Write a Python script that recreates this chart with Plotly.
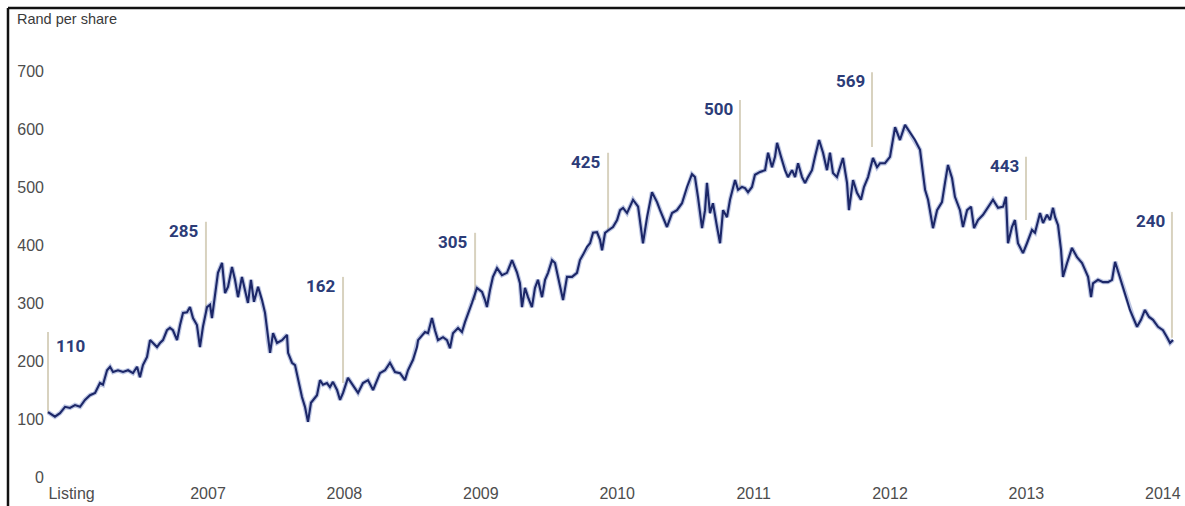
import plotly.graph_objects as go

# Share price history, time in decimal years
years = [
    2005.827, 2005.878, 2005.915, 2005.952, 2005.988, 2006.025, 2006.062, 2006.098, 2006.135, 2006.172,
    2006.208, 2006.230, 2006.260, 2006.282, 2006.304, 2006.340, 2006.377, 2006.414, 2006.450, 2006.480,
    2006.501, 2006.523, 2006.553, 2006.575, 2006.597, 2006.626, 2006.648, 2006.670, 2006.699, 2006.721,
    2006.743, 2006.773, 2006.795, 2006.817, 2006.846, 2006.868, 2006.890, 2006.919, 2006.941, 2006.963,
    2006.993, 2007.015, 2007.029, 2007.051, 2007.073, 2007.103, 2007.125, 2007.147, 2007.176, 2007.198,
    2007.220, 2007.249, 2007.271, 2007.293, 2007.315, 2007.337, 2007.367, 2007.396, 2007.418, 2007.440,
    2007.455, 2007.477, 2007.506, 2007.543, 2007.579, 2007.587, 2007.616, 2007.638, 2007.660, 2007.689,
    2007.711, 2007.733, 2007.755, 2007.770, 2007.799, 2007.821, 2007.843, 2007.872, 2007.894, 2007.916,
    2007.946, 2007.968, 2007.990, 2008.026, 2008.063, 2008.100, 2008.136, 2008.173, 2008.210, 2008.261,
    2008.298, 2008.334, 2008.371, 2008.408, 2008.444, 2008.466, 2008.503, 2008.532, 2008.540, 2008.569,
    2008.591, 2008.613, 2008.642, 2008.664, 2008.686, 2008.723, 2008.752, 2008.774, 2008.796, 2008.833,
    2008.862, 2008.884, 2008.906, 2008.935, 2008.972, 2009.009, 2009.031, 2009.045, 2009.067, 2009.089,
    2009.119, 2009.155, 2009.192, 2009.229, 2009.265, 2009.287, 2009.302, 2009.324, 2009.346, 2009.375,
    2009.397, 2009.419, 2009.449, 2009.471, 2009.493, 2009.522, 2009.544, 2009.566, 2009.603, 2009.632,
    2009.669, 2009.705, 2009.727, 2009.749, 2009.779, 2009.801, 2009.823, 2009.852, 2009.874, 2009.889,
    2009.911, 2009.933, 2009.969, 2009.999, 2010.021, 2010.043, 2010.072, 2010.116, 2010.153, 2010.189,
    2010.219, 2010.255, 2010.292, 2010.314, 2010.365, 2010.402, 2010.438, 2010.475, 2010.512, 2010.548,
    2010.570, 2010.592, 2010.622, 2010.644, 2010.658, 2010.680, 2010.702, 2010.732, 2010.754, 2010.776,
    2010.805, 2010.827, 2010.864, 2010.886, 2010.915, 2010.937, 2010.959, 2010.988, 2011.010, 2011.047,
    2011.084, 2011.106, 2011.135, 2011.157, 2011.172, 2011.201, 2011.230, 2011.252, 2011.282, 2011.304,
    2011.326, 2011.355, 2011.377, 2011.399, 2011.428, 2011.450, 2011.480, 2011.509, 2011.538, 2011.560,
    2011.582, 2011.611, 2011.633, 2011.655, 2011.685, 2011.699, 2011.729, 2011.758, 2011.787, 2011.809,
    2011.839, 2011.875, 2011.905, 2011.927, 2011.963, 2012.000, 2012.037, 2012.073, 2012.110, 2012.147,
    2012.183, 2012.220, 2012.257, 2012.279, 2012.315, 2012.345, 2012.381, 2012.403, 2012.425, 2012.455,
    2012.476, 2012.513, 2012.535, 2012.565, 2012.594, 2012.616, 2012.645, 2012.682, 2012.719, 2012.755,
    2012.792, 2012.829, 2012.850, 2012.865, 2012.894, 2012.916, 2012.938, 2012.975, 2013.004, 2013.041,
    2013.063, 2013.100, 2013.122, 2013.151, 2013.173, 2013.195, 2013.210, 2013.232, 2013.254, 2013.268,
    2013.298, 2013.334, 2013.371, 2013.408, 2013.430, 2013.452, 2013.474, 2013.488, 2013.525, 2013.562,
    2013.598, 2013.628, 2013.650, 2013.686, 2013.708, 2013.737, 2013.759, 2013.781, 2013.811, 2013.840,
    2013.869, 2013.899, 2013.928, 2013.965, 2014.001, 2014.031, 2014.053, 2014.075,
]
price = [
    112, 104, 110, 121, 119, 124, 121, 133, 141, 145,
    162, 159, 184, 190, 181, 184, 181, 184, 179, 190,
    172, 193, 207, 236, 231, 224, 231, 236, 253, 257,
    253, 236, 262, 283, 284, 293, 274, 262, 224, 259,
    293, 297, 274, 314, 352, 369, 317, 328, 362, 340,
    310, 345, 322, 300, 340, 302, 328, 305, 283, 236,
    214, 248, 231, 236, 245, 214, 197, 193, 167, 138,
    121, 95, 128, 133, 141, 167, 159, 162, 155, 164,
    150, 133, 145, 171, 159, 145, 162, 167, 150, 179,
    184, 197, 181, 179, 167, 184, 202, 224, 236, 245,
    250, 248, 274, 253, 236, 241, 236, 222, 248, 257,
    250, 267, 283, 300, 326, 319, 305, 293, 322, 345,
    360, 348, 352, 374, 353, 334, 293, 326, 310, 293,
    326, 340, 310, 340, 352, 374, 369, 345, 305, 345,
    345, 352, 374, 383, 397, 403, 421, 422, 409, 391,
    421, 425, 431, 443, 460, 464, 455, 478, 466, 403,
    448, 491, 474, 460, 431, 455, 460, 472, 500, 522,
    517, 483, 429, 460, 507, 455, 472, 431, 403, 460,
    448, 478, 512, 495, 500, 498, 491, 500, 521, 526,
    529, 559, 534, 552, 576, 552, 529, 517, 529, 517,
    541, 517, 507, 517, 529, 552, 581, 559, 529, 559,
    524, 517, 534, 550, 507, 460, 512, 490, 478, 500,
    517, 550, 534, 541, 541, 552, 603, 581, 607, 593,
    581, 564, 495, 478, 429, 460, 474, 507, 538, 515,
    483, 460, 431, 460, 466, 429, 443, 452, 466, 478,
    464, 466, 483, 403, 431, 443, 403, 386, 403, 426,
    421, 455, 438, 452, 443, 464, 448, 434, 391, 345,
    369, 395, 379, 369, 357, 345, 310, 334, 340, 336,
    336, 340, 371, 345, 328, 305, 288, 276, 259, 271,
    288, 276, 271, 259, 253, 241, 231, 236,
]

# Year-end callouts: position, stated price and height of the leader line
marker_years = [2005.827, 2006.985, 2007.990, 2008.958, 2009.933, 2010.900, 2011.868, 2012.997, 2014.067]
marker_values = [110, 285, 162, 305, 425, 500, 569, 443, 240]
marker_tops = [250, 440, 345, 421, 559, 650, 698, 552, 457]

tick_years = [2006, 2007, 2008, 2009, 2010, 2011, 2012, 2013, 2014]
tick_labels = ["Listing", "2007", "2008", "2009", "2010", "2011", "2012", "2013", "2014"]
y_ticks = [0, 100, 200, 300, 400, 500, 600, 700]

NAVY = "#1c2768"
LABEL_NAVY = "#2c3c78"
LEADER = "#d8d2bf"
AXIS_TEXT = "#4d4d4d"

fig = go.Figure()

# soft halo under the price line
fig.add_trace(go.Scatter(
    x=years, y=price, mode="lines",
    line=dict(color="rgba(70,95,175,0.35)", width=4.5),
    hoverinfo="skip", showlegend=False,
))
fig.add_trace(go.Scatter(
    x=years, y=price, mode="lines",
    line=dict(color=NAVY, width=2.1),
    showlegend=False,
))

shapes = []
annotations = []
for i, (mx, mv, mt) in enumerate(zip(marker_years, marker_values, marker_tops)):
    shapes.append(dict(
        type="line", xref="x", yref="y",
        x0=mx, x1=mx, y0=mv, y1=mt,
        line=dict(color=LEADER, width=2), layer="below",
    ))
    if i == 0:
        annotations.append(dict(
            x=mx, y=mt, xref="x", yref="y", text=str(mv), showarrow=False,
            xanchor="left", yanchor="top", xshift=6, yshift=-2,
            font=dict(family="Roboto", size=17, color=LABEL_NAVY, weight="bold"),
        ))
    else:
        annotations.append(dict(
            x=mx, y=mt, xref="x", yref="y", text=str(mv), showarrow=False,
            xanchor="right", yanchor="top", xshift=-5, yshift=3,
            font=dict(family="Roboto", size=17, color=LABEL_NAVY, weight="bold"),
        ))

annotations.append(dict(
    x=-0.0264, y=1.0475, xref="paper", yref="paper", text="Rand per share",
    showarrow=False, xanchor="left", yanchor="middle",
    font=dict(family="Liberation Sans, Arial", size=14.5, color="#3a3a3a"),
))

# picture frame along the top and left edges
shapes.append(dict(type="line", xref="paper", yref="paper",
                   x0=-0.0326, x1=1.01, y0=1.0724, y1=1.0724,
                   line=dict(color="#111111", width=2.5)))
shapes.append(dict(type="line", xref="paper", yref="paper",
                   x0=-0.0326, x1=-0.0326, y0=1.0724, y1=-0.06,
                   line=dict(color="#111111", width=2.5)))

fig.update_layout(
    width=1185, height=506,
    margin=dict(l=45, r=5, t=40, b=24),
    paper_bgcolor="white", plot_bgcolor="white",
    shapes=shapes, annotations=annotations,
    xaxis=dict(
        range=[2005.805, 2014.126],
        tickmode="array", tickvals=tick_years, ticktext=tick_labels,
        showgrid=False, zeroline=False, showline=False, ticks="",
        tickfont=dict(family="Liberation Sans, Arial", size=16, color=AXIS_TEXT),
    ),
    yaxis=dict(
        range=[-8.62, 753.4],
        tickmode="array", tickvals=y_ticks,
        showgrid=False, zeroline=False, showline=False, ticks="",
        tickfont=dict(family="Liberation Sans, Arial", size=16, color=AXIS_TEXT),
    ),
)

fig.write_html("out.html")
